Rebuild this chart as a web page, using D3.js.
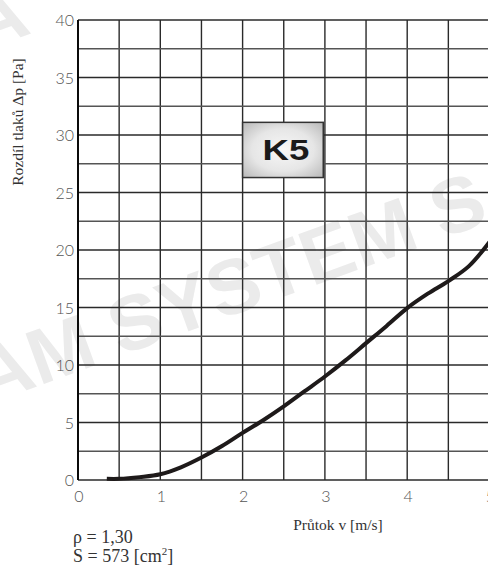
<!DOCTYPE html>
<html lang="cs">

<head>
    <meta charset="UTF-8">
    <title>K5</title>
    <script src="https://cdn.jsdelivr.net/npm/d3@7"></script>
</head>

<body>
    <script>
        // rychlost [m/s] a tlaková ztráta [Pa]
        const velocity = [0.35, 0.5, 0.75, 1, 1.25, 1.5, 1.75, 2, 2.25, 2.5, 2.75, 3, 3.25, 3.5, 3.75, 4, 4.25, 4.5, 4.75, 5];
        const pressure = [0.1, 0.1, 0.25, 0.5, 1.1, 1.95, 2.95, 4.1, 5.2, 6.4, 7.7, 9.0, 10.4, 11.9, 13.4, 14.95, 16.2, 17.3, 18.6, 20.7];
        const xTicks = [0, 1, 2, 3, 4, 5];
        const yTicks = [0, 5, 10, 15, 20, 25, 30, 35, 40];
        const xGrid = d3.range(0, 5.01, 0.5);
        const yGrid = d3.range(0, 40.01, 2.5);

        const width = 488, height = 566;
        const svg = d3.select("body").append("svg").attr("width", width).attr("height", height);

        const x = d3.scaleLinear().domain([0, 5]).range([78, 489.5]);
        const y = d3.scaleLinear().domain([0, 40]).range([480, 20]);

        // vodoznak
        const wm = svg.append("g")
            .attr("fill", "#ebebeb")
            .attr("font-family", "Liberation Sans, Arial, sans-serif")
            .attr("font-weight", "bold")
            .attr("font-size", 78);
        wm.append("text")
            .attr("transform", "translate(-14,405) rotate(-20)")
            .text("AM SYSTEM S.r.o.");
        wm.append("text")
            .attr("transform", "translate(-20,52) rotate(-20)")
            .text("A");

        // mřížka
        svg.append("g")
            .selectAll("line")
            .data(xGrid)
            .join("line")
            .attr("x1", d => x(d)).attr("x2", d => x(d))
            .attr("y1", y(0)).attr("y2", y(40))
            .attr("stroke", "#2a2a2a")
            .attr("stroke-width", 1.4);

        svg.append("g")
            .selectAll("line")
            .data(yGrid)
            .join("line")
            .attr("x1", x(0)).attr("x2", width)
            .attr("y1", d => y(d)).attr("y2", d => y(d))
            .attr("stroke", d => d % 5 === 0 ? "#2a2a2a" : "#555")
            .attr("stroke-width", 1.4);

        svg.append("line")
            .attr("x1", x(0)).attr("x2", x(0))
            .attr("y1", y(0)).attr("y2", y(40))
            .attr("stroke", "#000")
            .attr("stroke-width", 1.8);

        // popisky os
        svg.append("g")
            .attr("font-family", "Lato, 'Open Sans', sans-serif")
            .attr("font-weight", 300)
            .attr("font-size", 16)
            .attr("fill", "#555")
            .attr("text-anchor", "end")
            .selectAll("text")
            .data(yTicks)
            .join("text")
            .attr("x", 74)
            .attr("y", d => y(d) + 6)
            .text(d => d);

        svg.append("g")
            .attr("font-family", "Lato, 'Open Sans', sans-serif")
            .attr("font-weight", 300)
            .attr("font-size", 16)
            .attr("fill", "#555")
            .attr("text-anchor", "middle")
            .selectAll("text")
            .data(xTicks)
            .join("text")
            .attr("x", d => x(d) + 1)
            .attr("y", 502)
            .text(d => d);

        svg.append("text")
            .attr("x", 338)
            .attr("y", 530)
            .attr("text-anchor", "middle")
            .attr("font-family", "Liberation Serif, 'Times New Roman', serif")
            .attr("font-size", 15.5)
            .attr("fill", "#333")
            .text("Průtok v [m/s]");

        svg.append("text")
            .attr("transform", "translate(23,122) rotate(-90)")
            .attr("text-anchor", "middle")
            .attr("font-family", "Liberation Serif, 'Times New Roman', serif")
            .attr("font-size", 15.5)
            .attr("fill", "#333")
            .text("Rozdíl tlaků Δp [Pa]");

        const note = svg.append("g")
            .attr("font-family", "Liberation Serif, 'Times New Roman', serif")
            .attr("font-size", 18)
            .attr("fill", "#333");
        note.append("text").attr("x", 73).attr("y", 543).text("ρ = 1,30");
        const s = note.append("text").attr("x", 73).attr("y", 562);
        s.append("tspan").text("S = 573 [cm");
        s.append("tspan").attr("font-size", 11).attr("dy", -7).text("2");
        s.append("tspan").attr("dy", 7).text("]");

        // křivka
        const pts = velocity.map((v, i) => [v, pressure[i]]);
        svg.append("path")
            .datum(pts)
            .attr("fill", "none")
            .attr("stroke", "#1e1a1a")
            .attr("stroke-width", 4)
            .attr("d", d3.line().x(d => x(d[0])).y(d => y(d[1])).curve(d3.curveCatmullRom));

        // štítek K5
        const grad = svg.append("defs").append("radialGradient")
            .attr("id", "boxGrad")
            .attr("cx", "50%").attr("cy", "50%").attr("r", "70%");
        grad.append("stop").attr("offset", "0%").attr("stop-color", "#f7f7f7");
        grad.append("stop").attr("offset", "55%").attr("stop-color", "#e6e6e6");
        grad.append("stop").attr("offset", "100%").attr("stop-color", "#b8b8b8");

        svg.append("rect")
            .attr("x", x(2))
            .attr("y", y(31.1))
            .attr("width", x(2.98) - x(2))
            .attr("height", y(26.3) - y(31.1))
            .attr("fill", "url(#boxGrad)")
            .attr("stroke", "#333")
            .attr("stroke-width", 1.5);

        svg.append("text")
            .attr("transform", "translate(286,160) scale(1.22,1)")
            .attr("text-anchor", "middle")
            .attr("font-family", "Liberation Sans, Arial, sans-serif")
            .attr("font-weight", "bold")
            .attr("font-size", 30)
            .attr("fill", "#1a1a1a")
            .text("K5");
    </script>
    <style>
        * {
            margin: 0;
            padding: 0;
        }
    </style>
</body>

</html>
